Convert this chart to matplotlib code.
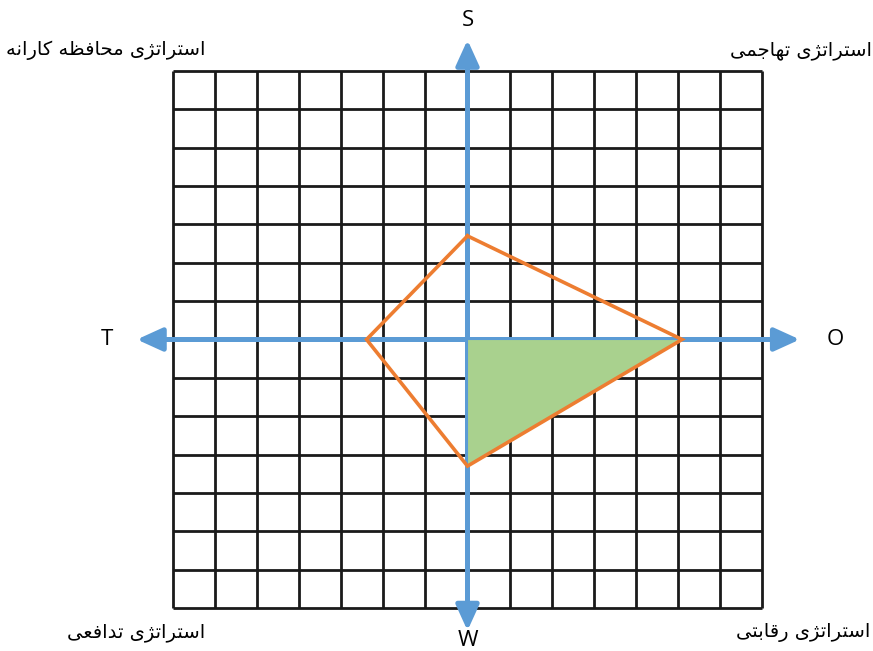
import matplotlib
matplotlib.use('Agg')
import matplotlib.pyplot as plt
import numpy as np

# Scores along each axis (in grid cells)
axis_names = ['S', 'O', 'W', 'T']
axis_scores = [2.7, 5.1, 3.3, 2.4]
grid_cells = 7

# Quadrant labels (Persian)
quad_labels = ['استراتژی محافظه کارانه', 'استراتژی تهاجمی',
               'استراتژی تدافعی', 'استراتژی رقابتی']

# --- minimal Persian shaping: (isolated, final, initial, medial) ---
forms = {
    'ا': (0xFE8D, 0xFE8E, None, None), 'ب': (0xFE8F, 0xFE90, 0xFE91, 0xFE92),
    'ت': (0xFE95, 0xFE96, 0xFE97, 0xFE98), 'ج': (0xFE9D, 0xFE9E, 0xFE9F, 0xFEA0),
    'ح': (0xFEA1, 0xFEA2, 0xFEA3, 0xFEA4), 'د': (0xFEA9, 0xFEAA, None, None),
    'ر': (0xFEAD, 0xFEAE, None, None), 'ژ': (0xFB8A, 0xFB8B, None, None),
    'س': (0xFEB1, 0xFEB2, 0xFEB3, 0xFEB4), 'ظ': (0xFEC5, 0xFEC6, 0xFEC7, 0xFEC8),
    'ع': (0xFEC9, 0xFECA, 0xFECB, 0xFECC), 'ف': (0xFED1, 0xFED2, 0xFED3, 0xFED4),
    'ق': (0xFED5, 0xFED6, 0xFED7, 0xFED8), 'ک': (0xFB8E, 0xFB8F, 0xFB90, 0xFB91),
    'م': (0xFEE1, 0xFEE2, 0xFEE3, 0xFEE4), 'ن': (0xFEE5, 0xFEE6, 0xFEE7, 0xFEE8),
    'ه': (0xFEE9, 0xFEEA, 0xFEEB, 0xFEEC), 'ی': (0xFBFC, 0xFBFD, 0xFBFE, 0xFBFF),
}

def shape(text):
    out = []
    for i, ch in enumerate(text):
        if ch not in forms:
            out.append(ch)
            continue
        prev = text[i - 1] if i > 0 else ' '
        nxt = text[i + 1] if i + 1 < len(text) else ' '
        joins_prev = prev in forms and forms[prev][2] is not None
        joins_next = nxt in forms and forms[ch][2] is not None
        iso, fin, ini, med = forms[ch]
        if joins_prev and joins_next:
            code = med
        elif joins_prev:
            code = fin
        elif joins_next:
            code = ini
        else:
            code = iso
        out.append(chr(code))
    return ''.join(out)[::-1]

W, H = 873, 651
fig = plt.figure(figsize=(W / 100, H / 100), dpi=100)
ax = fig.add_axes([0, 0, 1, 1])

# pixel geometry of the grid in the picture
x0, sx = 467.5, 42.07
y0, sy = 339.5, 38.36
ax.set_xlim((0 - x0) / sx, (W - x0) / sx)
ax.set_ylim((y0 - H) / sy, y0 / sy)
ax.axis('off')

blue = '#5B9BD5'
orange = '#ED7D31'
green = '#A9D18E'

ticks = np.arange(-grid_cells, grid_cells + 1)
ax.vlines(ticks, -grid_cells, grid_cells, color='#1a1a1a', lw=2.0, zorder=1)
ax.hlines(ticks, -grid_cells, grid_cells, color='#1a1a1a', lw=2.0, zorder=1)

# axes with arrows
arrow = dict(arrowstyle='<|-|>,head_length=1.1,head_width=0.5',
             mutation_scale=14, color=blue, lw=3.6, shrinkA=0, shrinkB=0)
ax.annotate('', xy=(7.9, 0), xytext=(-7.86, 0), arrowprops=arrow, zorder=3)
ax.annotate('', xy=(0, 7.81), xytext=(0, -7.59), arrowprops=arrow, zorder=3)

s, o, w, t = axis_scores
ax.fill([0, o, 0], [0, 0, -w], facecolor=green, edgecolor=blue, lw=0.8, zorder=4)
ax.plot([0, o, 0, -t, 0], [s, 0, -w, 0, s], color=orange, lw=2.6, zorder=5,
        solid_joinstyle='miter')

# axis letters
lab_font = dict(fontsize=16, family='Open Sans', color='black', ha='center', va='center')
ax.text(0, (y0 - 21) / sy, axis_names[0], **lab_font)
ax.text((835 - x0) / sx, 0, axis_names[1], **lab_font)
ax.text(0, (y0 - 640) / sy, axis_names[2], **lab_font)
ax.text((107 - x0) / sx, 0, axis_names[3], **lab_font)

q_font = dict(fontsize=14, family='DejaVu Sans', color='black', va='center')
fig.text(205 / W, 1 - 50 / H, shape(quad_labels[0]), ha='right', **q_font)
fig.text(872 / W, 1 - 50 / H, shape(quad_labels[1]), ha='right', **q_font)
fig.text(205 / W, 1 - 632 / H, shape(quad_labels[2]), ha='right', **q_font)
fig.text(870 / W, 1 - 632 / H, shape(quad_labels[3]), ha='right', **q_font)

fig.savefig('out.png', dpi=100)
